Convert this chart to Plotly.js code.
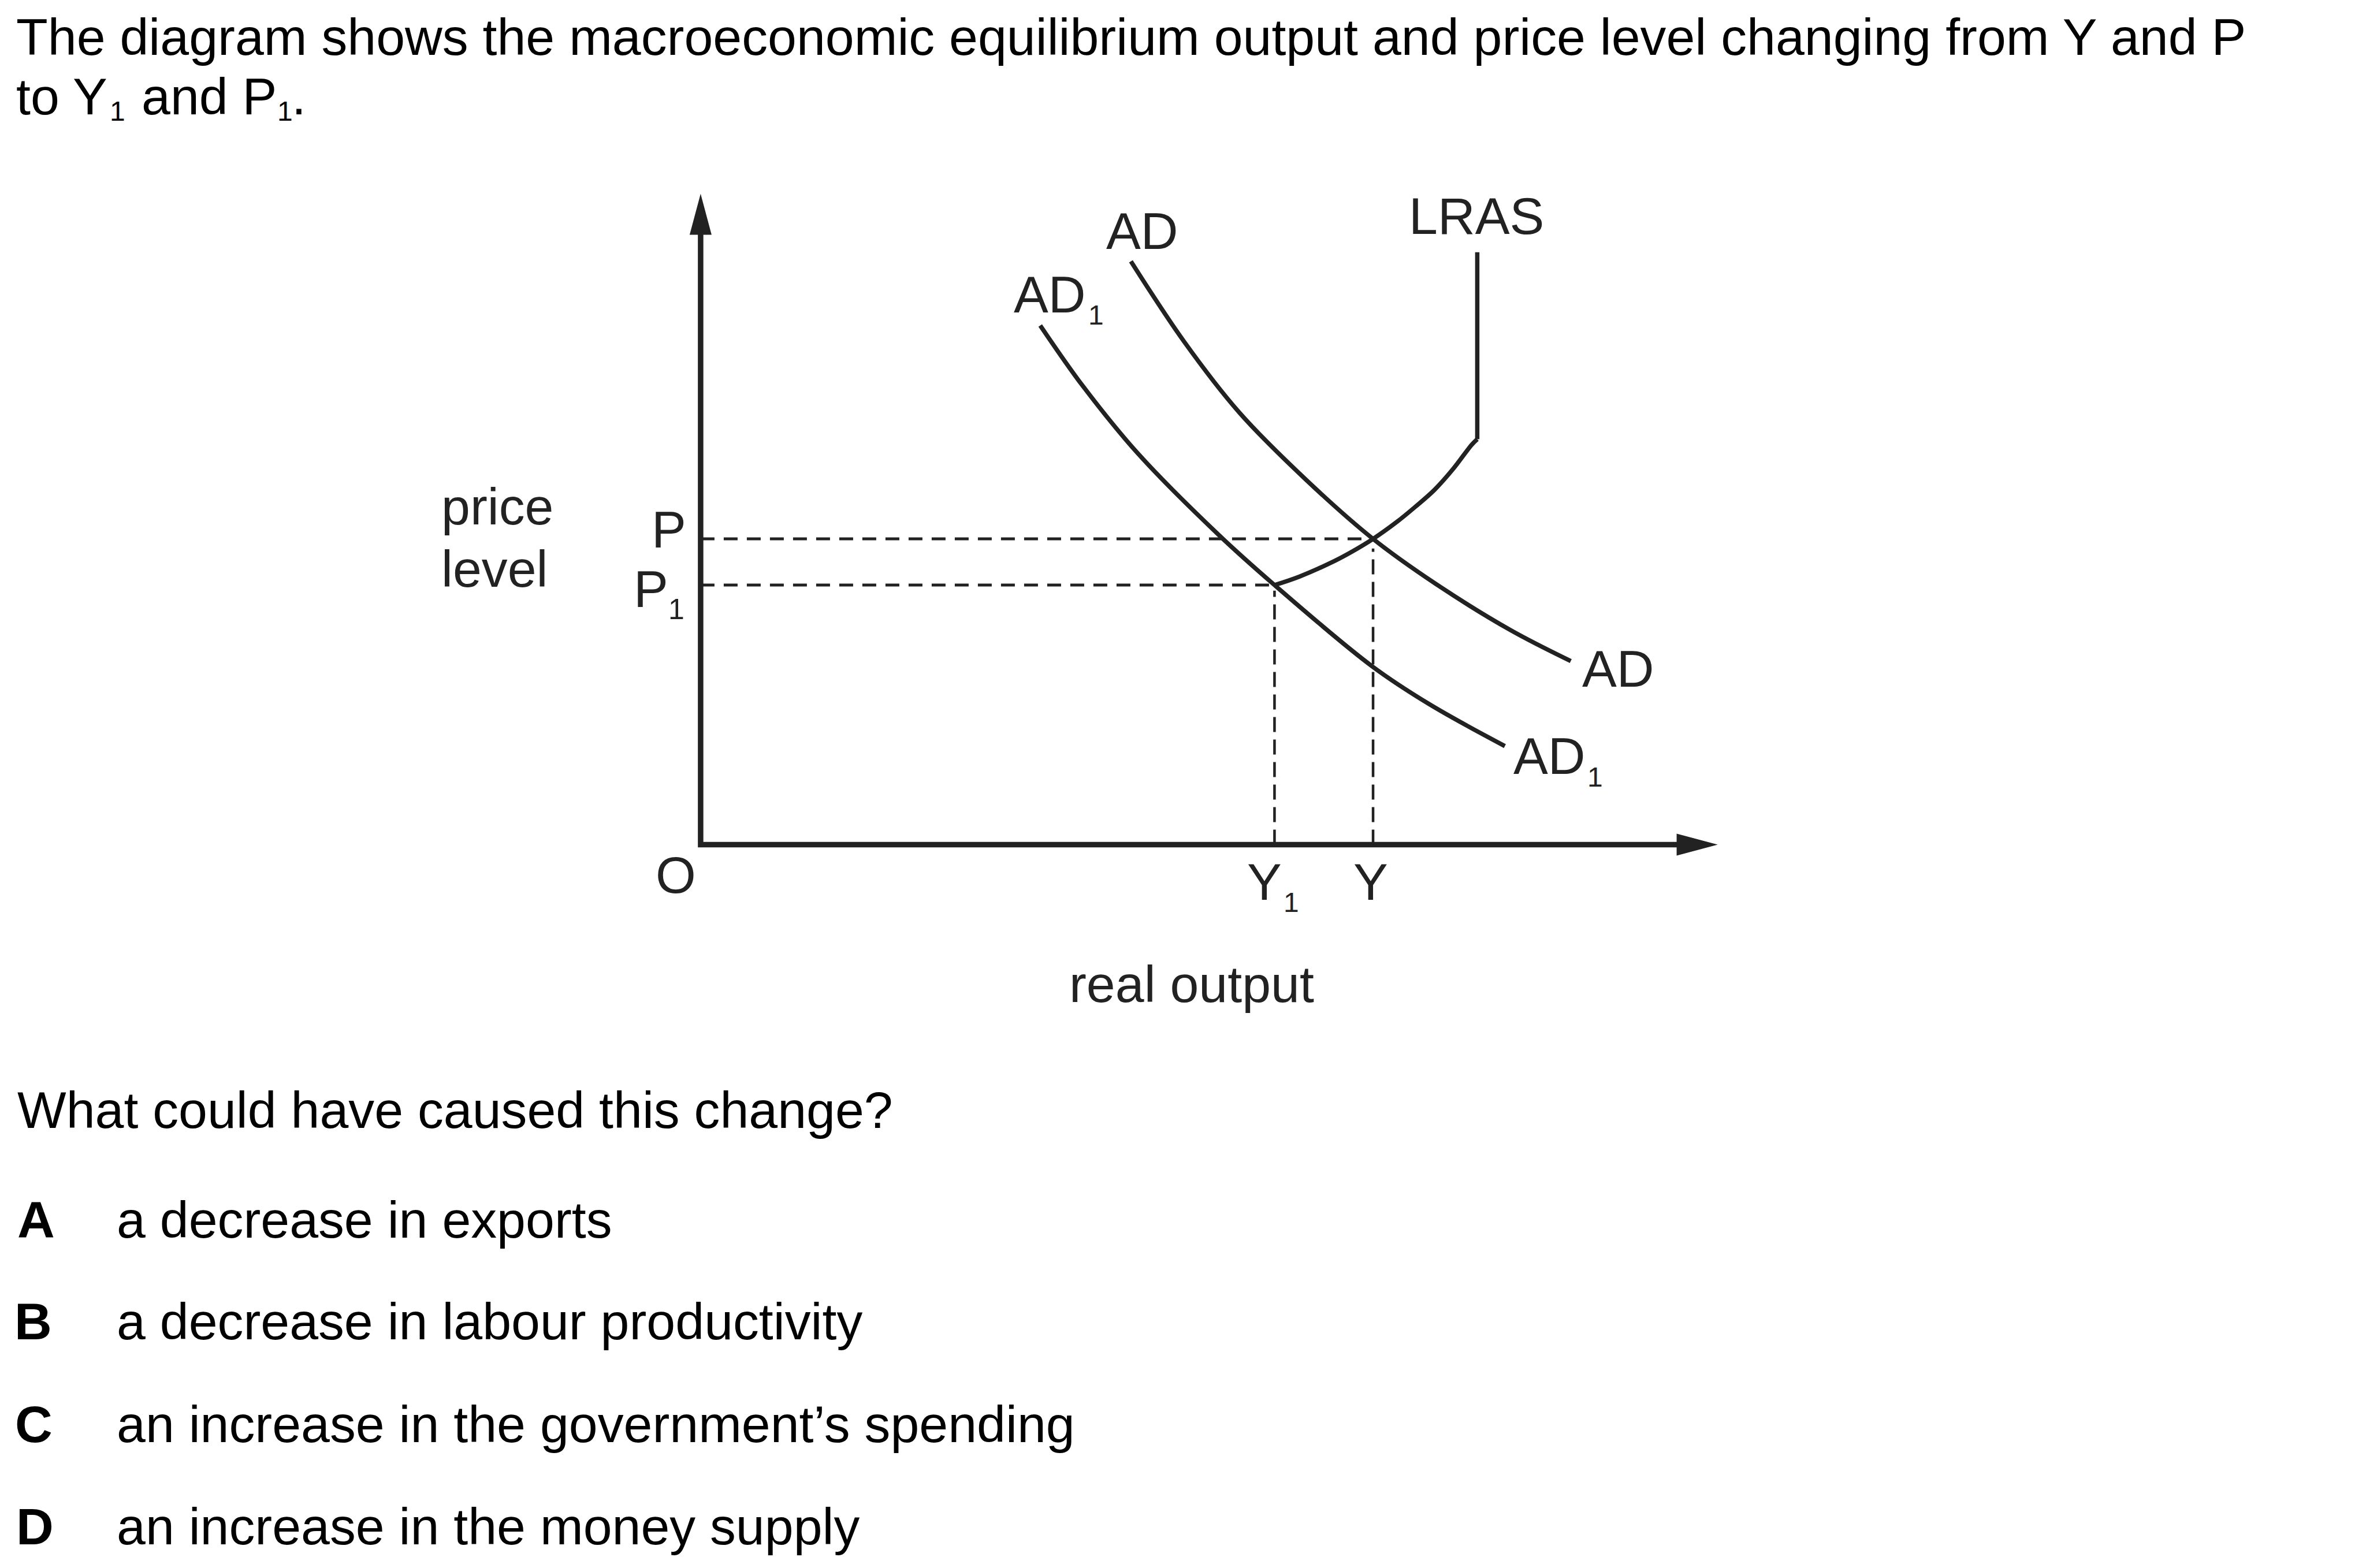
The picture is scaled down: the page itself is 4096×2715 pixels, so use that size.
<!DOCTYPE html>
<html>
<head>
<meta charset="utf-8">
<script src="https://cdn.plot.ly/plotly-3.0.1.min.js"></script>
<style>html,body{margin:0;padding:0;background:#fff;overflow:hidden}</style>
</head>
<body>
<div id="chart" style="width:4096px;height:2715px"></div>
<script>
// ---- data (diagram units; origin at the axes corner) ----
const adX  = [7.64, 8.58, 9.56, 10.75, 11.94, 13.04, 14.38, 15.45];
const adY  = [10.36, 8.94, 7.68, 6.48, 5.43, 4.64, 3.81, 3.26];
const ad1X = [6.03, 6.79, 7.77, 9.20, 10.19, 11.92, 12.93, 14.28];
const ad1Y = [9.22, 8.14, 6.94, 5.50, 4.61, 3.17, 2.50, 1.75];
const lrasVertX = [13.79, 13.79];
const lrasVertY = [10.52, 7.20];
const lrasCurveX = [13.79, 13.69, 13.36, 13.03, 12.69, 12.36, 11.94, 11.56, 11.26, 10.63, 10.19];
const lrasCurveY = [7.20, 7.10, 6.67, 6.30, 6.00, 5.73, 5.43, 5.20, 5.04, 4.76, 4.61];
const outputY = 11.94, priceP = 5.43;     // initial equilibrium
const outputY1 = 10.19, priceP1 = 4.61;   // new equilibrium
const xAxisEnd = 18.06, yAxisEnd = 11.56;

const questionLine1 = "The diagram shows the macroeconomic equilibrium output and price level changing from Y and P";
const questionLine2 = ["to Y", "1", "and P", "1", "."];
const prompt = "What could have caused this change?";
const optionLetters = ["A", "B", "C", "D"];
const optionTexts = [
  "a decrease in exports",
  "a decrease in labour productivity",
  "an increase in the government’s spending",
  "an increase in the money supply"
];

// ---- geometry ----
const W = 4096, H = 2715, S = 0.975;
const UNIT = 97.5;
const X0 = -12.44, YTOP = 15;
const FS = 89.7, SUB = 48;
const FONT = '"Liberation Sans", Arial, sans-serif';
const INK = '#222';

// rx / baseline in reference pixels; size in window pixels
function txt(text, rx, baseline, o) {
  o = o || {};
  const size = o.size || FS;
  const asc = 0.905 * size / S;
  return {
    text: text, showarrow: false,
    xref: 'paper', yref: 'paper',
    x: rx * S / W, y: 1 - (baseline - asc) * S / H,
    xanchor: o.anchor || 'left', yanchor: 'top',
    borderpad: 0, borderwidth: 0,
    font: {family: FONT, size: size, color: o.color || '#000', weight: o.bold ? 'bold' : 'normal'}
  };
}

const curve = {color: INK, width: 7.5};
const traces = [];
function lineTrace(x, y, line, shape) {
  traces.push({x: x, y: y, type: 'scatter', mode: 'lines', hoverinfo: 'skip',
    line: Object.assign({shape: shape || 'linear'}, line)});
}

// dashed guides
const hDash = {color: INK, width: 5, dash: '24px,16px'};
const vDash = {color: INK, width: 4.5, dash: '26px,13px'};
lineTrace([0, outputY], [priceP, priceP], hDash);
lineTrace([0, outputY1], [priceP1, priceP1], hDash);
lineTrace([outputY, outputY], [0, priceP - 0.17], vDash);
lineTrace([outputY1, outputY1], [0, priceP1 - 0.1], vDash);

// curves
lineTrace(adX, adY, curve, 'spline');
lineTrace(ad1X, ad1Y, curve, 'spline');
lineTrace(lrasVertX, lrasVertY, curve);
lineTrace(lrasCurveX, lrasCurveY, curve, 'spline');

// axes with arrowheads
const aLen = 0.73, aHalf = 0.195;
lineTrace([0, 0, xAxisEnd - aLen + 0.05], [yAxisEnd - aLen + 0.05, 0, 0], {color: INK, width: 9.5});
traces.push({x: [-aHalf, aHalf, 0, -aHalf], y: [yAxisEnd - aLen, yAxisEnd - aLen, yAxisEnd, yAxisEnd - aLen],
  type: 'scatter', mode: 'lines', fill: 'toself', fillcolor: INK, line: {width: 0, color: INK}, hoverinfo: 'skip'});
traces.push({x: [xAxisEnd - aLen, xAxisEnd - aLen, xAxisEnd, xAxisEnd - aLen], y: [-aHalf, aHalf, 0, -aHalf],
  type: 'scatter', mode: 'lines', fill: 'toself', fillcolor: INK, line: {width: 0, color: INK}, hoverinfo: 'skip'});

// ---- text ----
const ann = [];
ann.push(txt(questionLine1, 29, 98));
ann.push(txt(questionLine2[0], 29, 203));
ann.push(txt(questionLine2[1], 209, 215, {size: SUB, anchor: 'center'}));
ann.push(txt(questionLine2[2], 251, 203));
ann.push(txt(questionLine2[3], 506, 215, {size: SUB, anchor: 'center'}));
ann.push(txt(questionLine2[4], 518, 203));
ann.push(txt(prompt, 31, 2003));
const optBase = [2198, 2379, 2561, 2743];
const letterLeft = [31, 26, 27, 29];
optionLetters.forEach((L, i) => {
  ann.push(txt(L, letterLeft[i], optBase[i], {bold: true}));
  ann.push(txt(optionTexts[i], 207, optBase[i]));
});
const L = {color: INK};
const LS = {color: INK, size: SUB, anchor: 'center'};
ann.push(txt('price', 784, 931, L));
ann.push(txt('level', 784, 1042, L));
ann.push(txt('P', 1218, 972, {color: INK, anchor: 'right'}));
ann.push(txt('P', 1156, 1078, {color: INK, anchor: 'center'}));
ann.push(txt('1', 1201, 1100, {color: INK, size: 50, anchor: 'center'}));
ann.push(txt('O', 1200, 1586, {color: INK, anchor: 'center'}));
ann.push(txt('Y', 2245.5, 1598, {color: INK, anchor: 'center'}));
ann.push(txt('1', 2293, 1620, LS));
ann.push(txt('Y', 2434, 1598, {color: INK, anchor: 'center'}));
ann.push(txt('real output', 2116, 1780, {color: INK, anchor: 'center'}));
ann.push(txt('AD', 2028, 442, {color: INK, anchor: 'center'}));
ann.push(txt('AD', 1864.5, 555, {color: INK, anchor: 'center'}));
ann.push(txt('1', 1946, 577, LS));
ann.push(txt('LRAS', 2622, 416, {color: INK, anchor: 'center'}));
ann.push(txt('AD', 2873, 1220, {color: INK, anchor: 'center'}));
ann.push(txt('AD', 2751.5, 1375, {color: INK, anchor: 'center'}));
ann.push(txt('1', 2832, 1397, LS));

const layout = {
  width: W, height: H,
  margin: {l: 0, r: 0, t: 0, b: 0, pad: 0},
  paper_bgcolor: '#fff', plot_bgcolor: '#fff',
  showlegend: false,
  xaxis: {range: [X0, X0 + W / UNIT], visible: false, fixedrange: true},
  yaxis: {range: [YTOP - H / UNIT, YTOP], visible: false, fixedrange: true},
  annotations: ann
};
Plotly.newPlot('chart', traces, layout, {displayModeBar: false, staticPlot: true});
</script>
</body>
</html>
